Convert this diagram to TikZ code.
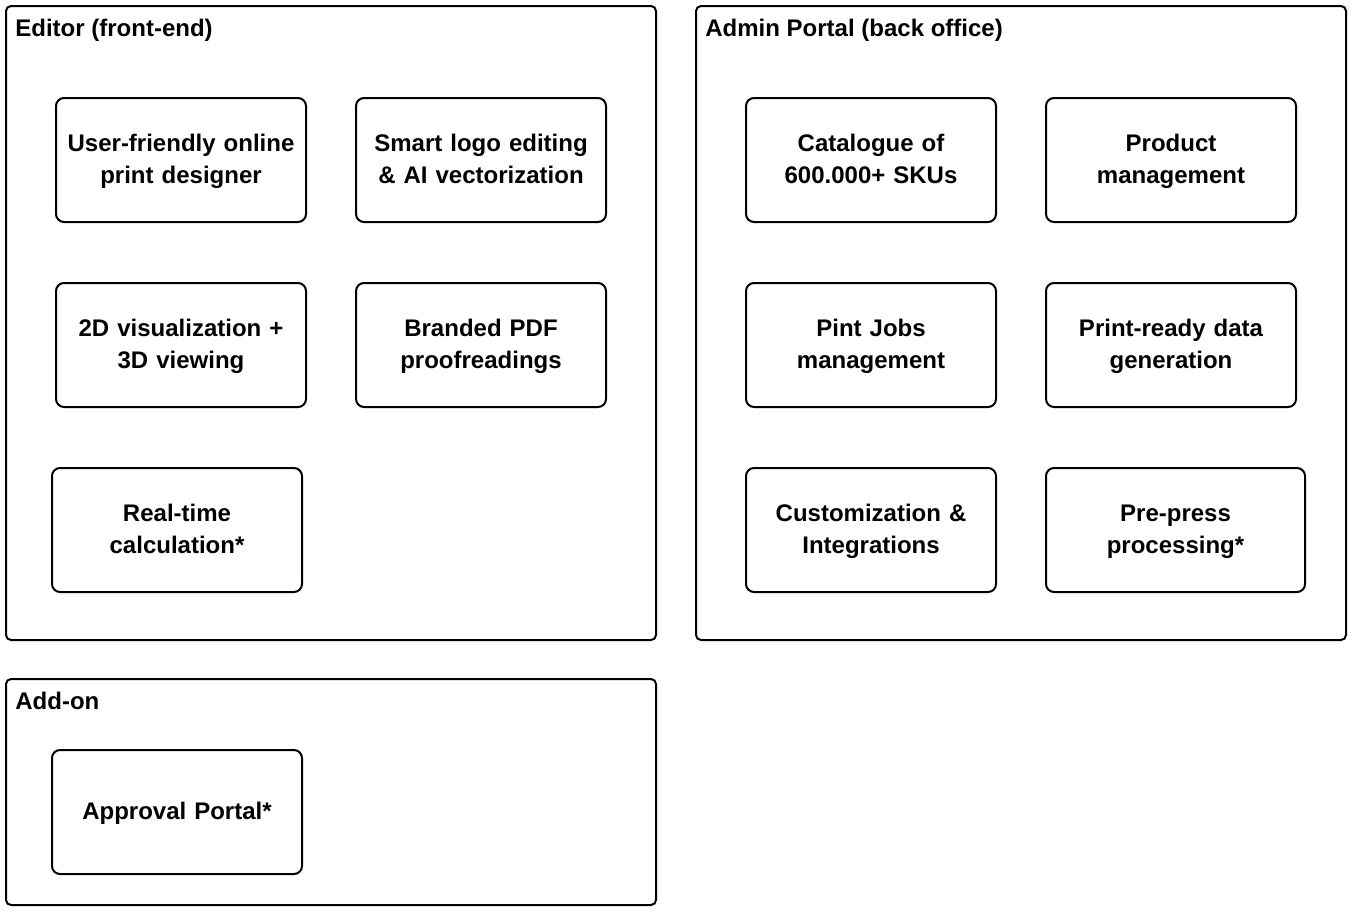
\documentclass[tikz,border=0pt]{standalone}
\usepackage{fontspec}
\setmainfont{Liberation Sans}
\usepackage{tikz}
\usetikzlibrary{positioning}
\newcommand{\linestrut}{\rule[-4.25pt]{0pt}{16pt}}

\begin{document}
\begin{tikzpicture}[x=0.5pt, y=-0.5pt,
  every node/.style={font=\fontsize{12}{16}\selectfont\bfseries},
  group/.style={draw, line width=1pt, rounded corners=2.5pt, inner sep=0pt},
  feature/.style={draw, line width=1pt, rounded corners=4pt, text width=119pt,
    minimum height=62pt, align=center, inner xsep=3pt, inner ysep=0pt,
    execute at begin node=\linestrut, execute at end node=\linestrut},
  grouptitle/.style={anchor=base west, inner sep=0pt}]
\useasboundingbox (0,0) rectangle (1352,911);
% Containers
\node[group, minimum width=325pt, minimum height=317pt] (editor) at (331,323) {};
\node[group, minimum width=325pt, minimum height=317pt] (admin) at (1021,323) {};
\node[group, minimum width=325pt, minimum height=113pt] (addon) at (331,792) {};
\node[grouptitle] (editorT) at (15,36) {Editor (front-end)};
\node[grouptitle] (adminT) at (705,36) {Admin Portal (back office)};
\node[grouptitle] (addonT) at (15,709) {Add-on};
% Editor features
\node[feature] (designer) at (181,160) {User-friendly online\\print designer};
\node[feature] (logo) at (481,160) {Smart logo editing\\\& AI vectorization};
\node[feature] (viz) at (181,345) {2D visualization +\\3D viewing};
\node[feature] (proof) at (481,345) {Branded PDF\\proofreadings};
\node[feature] (calc) at (177,530) {Real-time\\calculation*};
% Admin features
\node[feature] (catalogue) at (871,160) {Catalogue of\\600.000+ SKUs};
\node[feature] (product) at (1171,160) {Product\\management};
\node[feature] (jobs) at (871,345) {Pint Jobs\\management};
\node[feature] (printdata) at (1171,345) {Print-ready data\\generation};
\node[feature] (custom) at (871,530) {Customization \&\\Integrations};
\node[feature, text width=123.5pt] (prepress) at (1175.5,530) {Pre-press\\processing*};
% Add-on
\node[feature] (approval) at (177,812) {Approval Portal*};
\end{tikzpicture}
\end{document}
